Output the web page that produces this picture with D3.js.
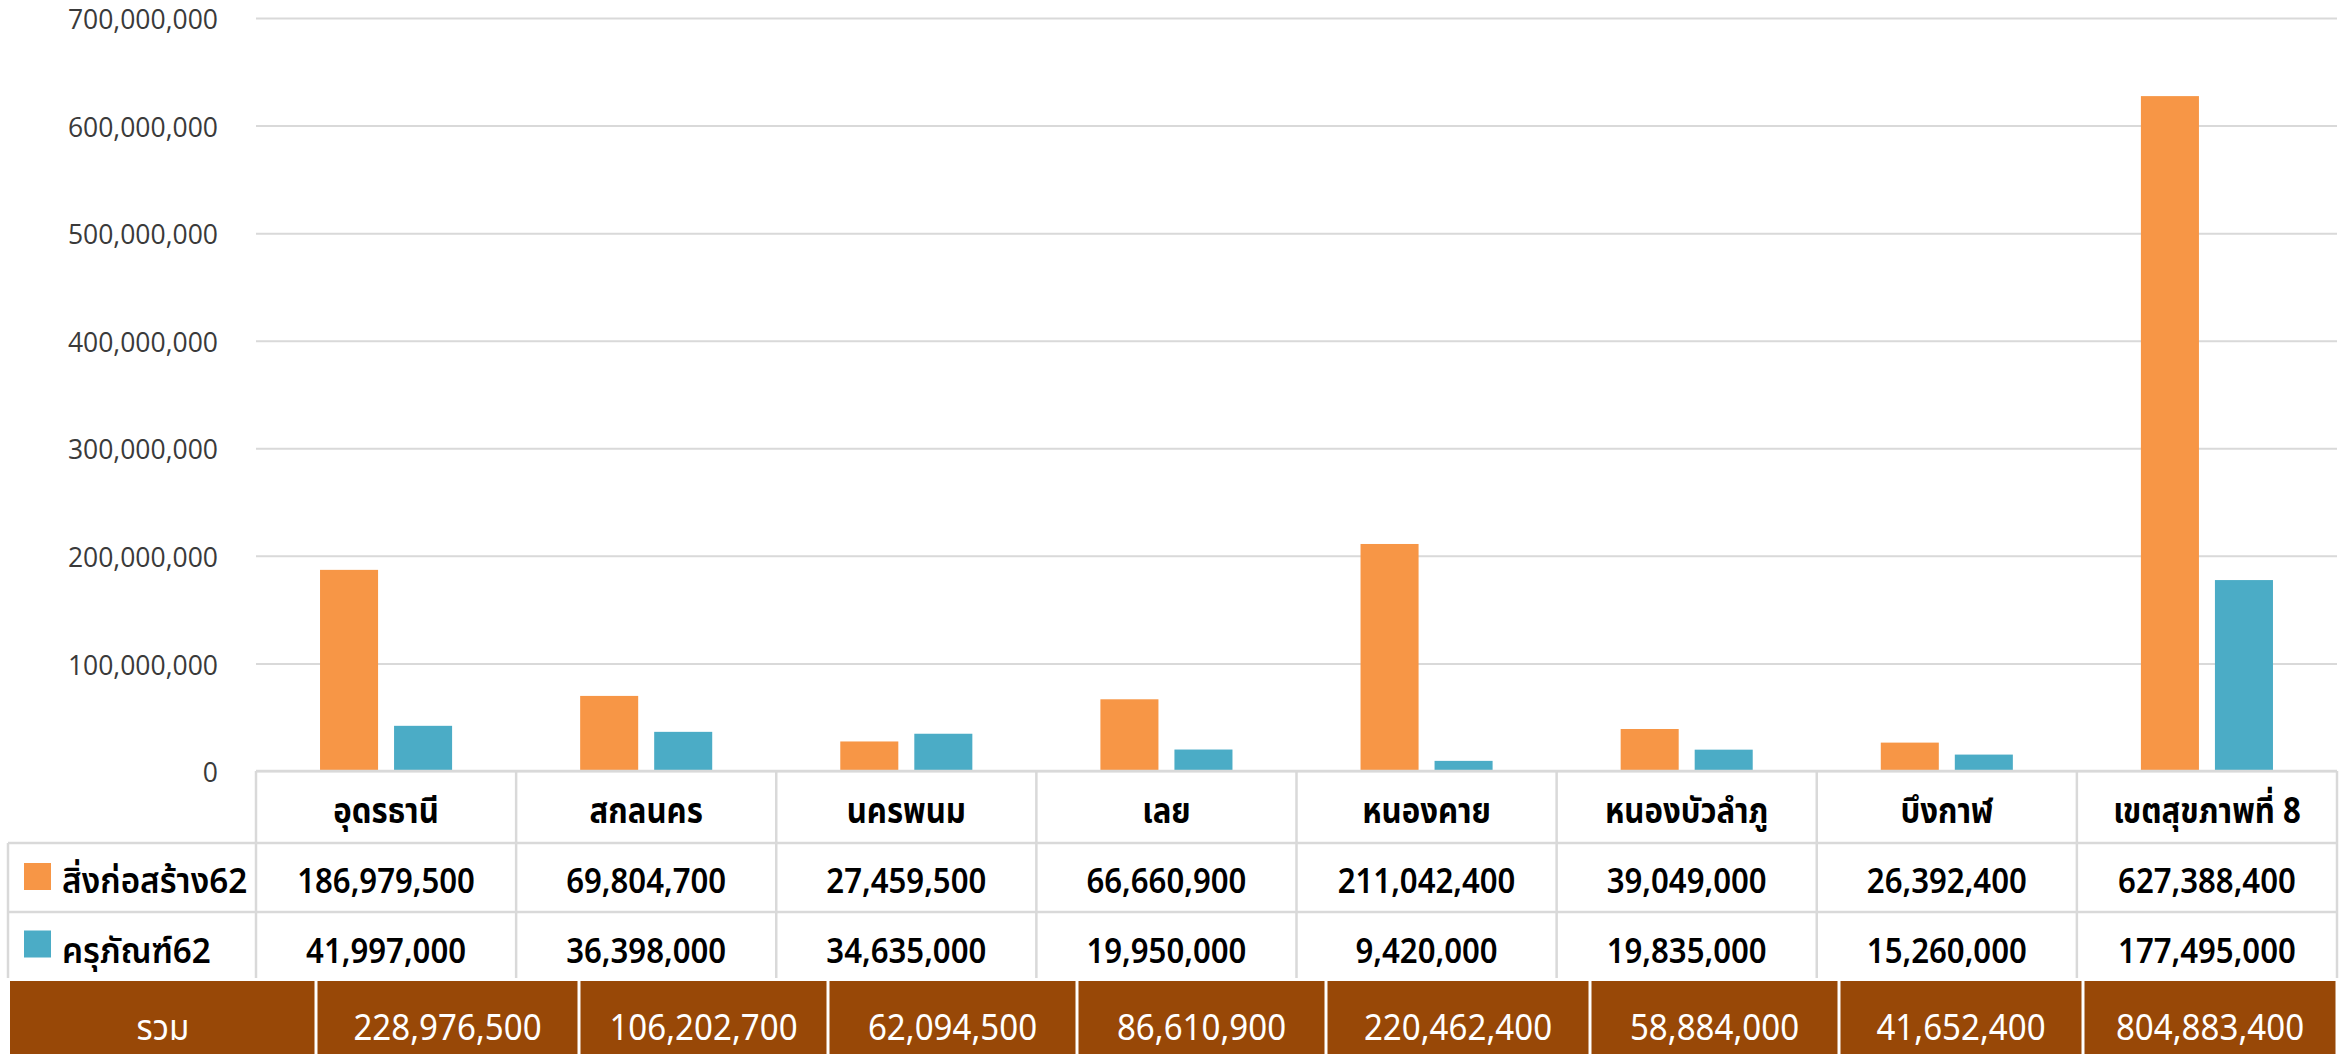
<!DOCTYPE html>
<html>
<head>
<meta charset="utf-8">
<script src="https://cdn.jsdelivr.net/npm/d3@7"></script>
<style>
  body { margin: 0; background: #fff; }
  svg { display: block; }
  .ytick { font-family: "Open Sans", "Noto Sans", sans-serif; font-size: 26.5px; fill: #3a3a3a; }
  .cell { font-family: "Noto Sans Thai", "Noto Sans", "Open Sans", sans-serif; font-size: 35px; fill: #000; font-weight: 600; }
  .head { font-weight: 700; }
  .sum { font-family: "Noto Sans Thai", "Open Sans", "Noto Sans", sans-serif; font-size: 36px; fill: #fff; font-weight: 400; }
</style>
</head>
<body>
<script>
//categories (provinces)
const categories = ['อุดรธานี', 'สกลนคร', 'นครพนม', 'เลย', 'หนองคาย', 'หนองบัวลำภู', 'บึงกาฬ', 'เขตสุขภาพที่ 8']

//series names
const seriesNames = ['สิ่งก่อสร้าง62', 'ครุภัณฑ์62']

//series values
const construction = [186979500, 69804700, 27459500, 66660900, 211042400, 39049000, 26392400, 627388400]
const equipment = [41997000, 36398000, 34635000, 19950000, 9420000, 19835000, 15260000, 177495000]

//totals row
const totalLabel = 'รวม'
const totals = [228976500, 106202700, 62094500, 86610900, 220462400, 58884000, 41652400, 804883400]

//y axis ticks
const yTicks = [0, 100000000, 200000000, 300000000, 400000000, 500000000, 600000000, 700000000]

const width = 2351
const height = 1054

const colors = ['#F79646', '#4BACC6']
const gridColor = '#d9d9d9'
const sumColor = '#984807'

//plot area
const plotLeft = 256
const plotRight = 2337
const plotTop = 18
const plotBottom = 771

//table rows
const rowTops = [771, 843, 912, 978]
const legendLeft = 8
//the totals row is a separate table with its own column edges
const sumTop = 981
const sumEdges = [10, 316, 579, 828, 1077, 1326, 1590, 1839, 2083, 2337]

//the table font in the original is condensed, squeeze a normal font to match
const cellSquash = 0.89
const sumSquash = 0.92

const fmt = d3.format(',')

const svg = d3.select('body')
  .append('svg')
  .attr('width', width)
  .attr('height', height)

//=================SCALES===================
const xScale = d3.scaleBand()
  .domain(categories)
  .range([plotLeft, plotRight])

const xInner = d3.scaleBand()
  .domain(seriesNames)
  .range([0, xScale.bandwidth()])
  .paddingInner(0.216)
  .paddingOuter(0.865)

const yScale = d3.scaleLinear()
  .domain([0, 700000000])
  .range([plotBottom, plotTop])

//=================== GRID + Y AXIS ==================
const yAxis = d3.axisLeft(yScale)
  .tickValues(yTicks)
  .tickFormat(d => fmt(d))
  .tickSize(-(plotRight - plotLeft))
  .tickPadding(38)

const yAxisGroup = svg.append('g')
  .attr('transform', `translate(${plotLeft},0)`)
  .call(yAxis)

yAxisGroup.select('.domain').remove()
yAxisGroup.selectAll('.tick line')
  .attr('stroke', gridColor)
  .attr('stroke-width', 2)
yAxisGroup.selectAll('.tick text')
  .attr('class', 'ytick')
  .attr('fill', null)
  .attr('font-size', null)
  .attr('font-family', null)
  .attr('dy', '0.4em')

//=================== BARS ==================
const series = [construction, equipment]
const barGroups = svg.append('g')
  .selectAll('g')
  .data(series)
  .enter()
  .append('g')
  .attr('fill', (d, i) => colors[i])

barGroups.selectAll('rect')
  .data((d, i) => d.map((v, j) => ({ key: seriesNames[i], cat: categories[j], value: v })))
  .enter()
  .append('rect')
  .attr('x', d => xScale(d.cat) + xInner(d.key))
  .attr('width', xInner.bandwidth())
  .attr('y', d => yScale(d.value))
  .attr('height', d => yScale(0) - yScale(d.value))

//=================== DATA TABLE ==================
const table = svg.append('g')

const lineStyle = sel => sel.attr('stroke', gridColor).attr('stroke-width', 2.5)
const place = (x, y, s) => `translate(${x},${y}) scale(${s},1)`

//horizontal lines
table.append('line').call(lineStyle)
  .attr('x1', plotLeft).attr('x2', plotRight).attr('y1', rowTops[0]).attr('y2', rowTops[0])
rowTops.slice(1, 3).forEach(y => {
  table.append('line').call(lineStyle)
    .attr('x1', legendLeft).attr('x2', plotRight).attr('y1', y).attr('y2', y)
})

//vertical lines
const colEdges = categories.map(c => xScale(c)).concat([plotRight])
colEdges.forEach(x => {
  table.append('line').call(lineStyle)
    .attr('x1', x).attr('x2', x).attr('y1', rowTops[0]).attr('y2', rowTops[3])
})
table.append('line').call(lineStyle)
  .attr('x1', legendLeft).attr('x2', legendLeft).attr('y1', rowTops[1]).attr('y2', rowTops[3])

//header row
table.selectAll('.headtext')
  .data(categories)
  .enter()
  .append('text')
  .attr('class', 'cell head')
  .attr('text-anchor', 'middle')
  .attr('transform', d => place(xScale(d) + xScale.bandwidth() / 2, 823, cellSquash))
  .text(d => d)

//value rows
const rowBaselines = [893, 963]
series.forEach((vals, i) => {
  table.selectAll(null)
    .data(vals)
    .enter()
    .append('text')
    .attr('class', 'cell')
    .attr('text-anchor', 'middle')
    .attr('transform', (d, j) => place(xScale(categories[j]) + xScale.bandwidth() / 2, rowBaselines[i], cellSquash))
    .text(d => fmt(d))

  //legend key + series name
  const rowMid = (rowTops[i + 1] + rowTops[i + 2]) / 2
  table.append('rect')
    .attr('x', 24)
    .attr('y', rowMid - 14.5)
    .attr('width', 27)
    .attr('height', 27)
    .attr('fill', colors[i])
  table.append('text')
    .attr('class', 'cell')
    .attr('transform', place(62, rowBaselines[i], 0.95))
    .text(seriesNames[i])
})

//=================== TOTALS ROW ==================
const sumCells = [totalLabel].concat(totals.map(fmt))
const sumG = svg.append('g')

sumG.selectAll('rect')
  .data(sumCells)
  .enter()
  .append('rect')
  .attr('x', (d, i) => sumEdges[i] + (i > 0 ? 1.5 : 0))
  .attr('width', (d, i) => sumEdges[i + 1] - sumEdges[i] - (i > 0 ? 1.5 : 0) - 1.5)
  .attr('y', sumTop)
  .attr('height', height - sumTop)
  .attr('fill', sumColor)

sumG.selectAll('text')
  .data(sumCells)
  .enter()
  .append('text')
  .attr('class', 'sum')
  .attr('text-anchor', 'middle')
  .attr('transform', (d, i) => place((sumEdges[i] + sumEdges[i + 1]) / 2, 1040, sumSquash))
  .text(d => d)
</script>
</body>
</html>
